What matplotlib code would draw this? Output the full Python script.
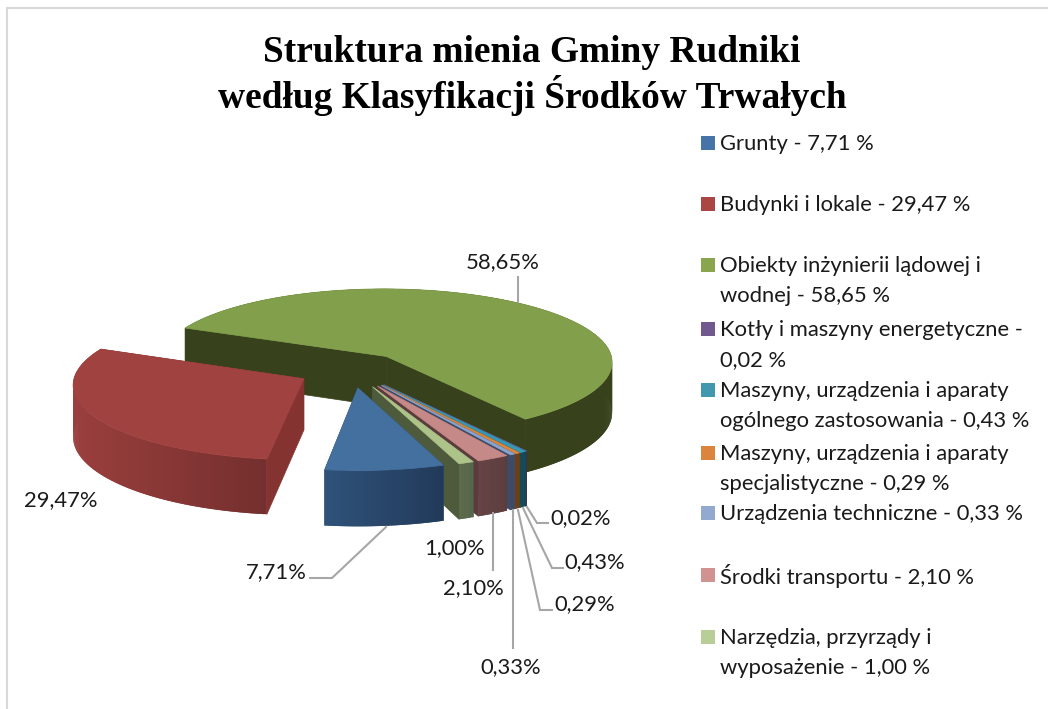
import numpy as np
import matplotlib
matplotlib.use("Agg")
import matplotlib.pyplot as plt
from matplotlib.patches import Polygon, Rectangle
from matplotlib.colors import to_rgb

# ---------- data ----------
title_lines = "Struktura mienia Gminy Rudniki\nwedług Klasyfikacji Środków Trwałych"
values = [7.71, 29.47, 58.65, 0.02, 0.43, 0.29, 0.33, 2.10, 1.00]
value_labels = ["7,71%", "29,47%", "58,65%", "0,02%", "0,43%", "0,29%", "0,33%", "2,10%", "1,00%"]
legend_labels = [
    "Grunty - 7,71 %",
    "Budynki i lokale - 29,47 %",
    "Obiekty inżynierii lądowej i\nwodnej - 58,65 %",
    "Kotły i maszyny energetyczne -\n0,02 %",
    "Maszyny, urządzenia i aparaty\nogólnego zastosowania - 0,43 %",
    "Maszyny, urządzenia i aparaty\nspecjalistyczne - 0,29 %",
    "Urządzenia techniczne - 0,33 %",
    "Środki transportu - 2,10 %",
    "Narzędzia, przyrządy i\nwyposażenie - 1,00 %",
]

# ---------- style ----------
top_colors = ["#44709f", "#a04240", "#82a04b", "#6f5590", "#3a97b2", "#e0883a", "#8ca3cc", "#c58a88", "#adc389"]
legend_colors = ["#4674a8", "#aa4643", "#89a54e", "#71588f", "#4198af", "#db843d", "#93a9cf", "#d19392", "#b9cd96"]
wall_a = ["#2f5279", "#9a3f3d", "#37411c", "#3c2f4d", "#174a58", "#6d3f14", "#3e4b67", "#664445", "#5f6d4d"]
wall_b = ["#223a5a", "#742f2e", "#37411c", "#3c2f4d", "#174a58", "#6d3f14", "#3e4b67", "#5d3d3e", "#56644a"]
side_colors = ["#2a4468", "#853331", "#37411c", "#3c2f4d", "#174a58", "#6d3f14", "#3e4b67", "#5b3b3d", "#4d5a3b"]

CX, CY = 352, 370
R, K, H, P = 228, 0.325, 51, 0.07
EXPLODE = 0.24
START = 70.0

label_pos = [(276, 572), (61, 500), (503, 262), (581, 518), (595, 562), (585, 604), (511, 667), (473, 588), (455, 548)]
leaders = [
    [(310, 578), (332, 578), (386, 527)],
    None,
    [(518, 277), (518, 302)],
    [(527, 507), (537, 523), (548, 523)],
    [(523, 508), (552, 568), (563, 568)],
    [(518, 510), (540, 610), (552, 610)],
    [(513, 510), (513, 648)],
    [(493, 513), (493, 570)],
    None,
]
legend_y = [144, 205, 266, 330, 391, 454, 514, 576, 638]

fig = plt.figure(figsize=(1048 / 100, 709 / 100), dpi=100, facecolor="white")
ax = fig.add_axes([0, 0, 1, 1])
ax.set_xlim(0, 1048)
ax.set_ylim(709, 0)
ax.axis("off")


def proj(u, v, z=0.0):
    u, v = np.asarray(u, float), np.asarray(v, float)
    f = 1 / (1 - P * v)
    return CX + R * u * f, CY + R * K * v * f + H * z * f


def poly(xs, ys, color, z, lw=0.5):
    ax.add_patch(Polygon(np.column_stack([xs, ys]), closed=True, facecolor=color,
                         edgecolor=color if lw else "none", linewidth=lw, zorder=z))


shares = np.array(values) / sum(values) * 360
starts = START + np.concatenate([[0], np.cumsum(shares)[:-1]])
draw_order = [2, 3, 4, 5, 6, 7, 8, 1, 0]

for rank, i in enumerate(draw_order):
    a0, a1 = starts[i], starts[i] + shares[i]
    mid = np.radians((a0 + a1) / 2)
    ou, ov = EXPLODE * np.cos(mid), EXPLODE * np.sin(mid)
    n = max(2, int(shares[i] * 1.5))
    th = np.radians(np.linspace(a0, a1, n + 1))
    au, av = ou + np.cos(th), ov + np.sin(th)
    z = 10 + rank * 5
    # radial walls
    for e in (0, -1):
        xt, yt = proj([ou, au[e]], [ov, av[e]], 0)
        xb, yb = proj([ou, au[e]], [ov, av[e]], 1)
        poly(np.r_[xt, xb[::-1]], np.r_[yt, yb[::-1]], side_colors[i], z)
    # outer wall: overlapping bands shaded along the rim, so no seams show
    xt, yt = proj(au, av, 0)
    xb, yb = proj(au, av, 1)
    ca, cb = np.array(to_rgb(wall_a[i])), np.array(to_rgb(wall_b[i]))
    xmin, xmax = xt.min(), xt.max()
    for j in range(n):
        t = (0.5 * (xt[j] + xt[j + 1]) - xmin) / max(xmax - xmin, 1e-6)
        c = tuple(ca + (cb - ca) * t)
        k2 = min(j + 2, n)
        seg = np.arange(j, k2 + 1)
        poly(np.r_[xt[seg], xb[seg][::-1]], np.r_[yt[seg], yb[seg][::-1]], c, z + 1, lw=0)
    # top face
    xa, ya = proj(ou, ov, 0)
    poly(np.r_[xa, xt], np.r_[ya, yt], top_colors[i], z + 2)

# leader lines
for seg in leaders:
    if seg:
        ax.plot(*zip(*seg), color="#a6a6a6", lw=1.5, solid_joinstyle="miter", zorder=80)

# value labels
FONT = "Lato"
for txt, (x, y) in zip(value_labels, label_pos):
    ax.text(x, y, txt, ha="center", va="center", family=FONT, fontsize=15.8, color="#1a1a1a", zorder=90)

# legend
for lab, col, y in zip(legend_labels, legend_colors, legend_y):
    ax.add_patch(Rectangle((701, y - 8), 14, 14, facecolor=col, edgecolor="none", zorder=90))
    for k, line in enumerate(lab.split("\n")):
        ax.text(720, y + k * 30, line, ha="left", va="center", family=FONT, fontsize=15.8,
                color="#1a1a1a", zorder=90)

# title
for k, line in enumerate(title_lines.split("\n")):
    ax.text(532, 52 + k * 43, line, ha="center", va="center", family="Liberation Serif",
            fontweight="bold", fontsize=26.9, color="black", zorder=90)

# chart frame
ax.plot([7, 7, 1048], [709, 8, 8], color="#d9d9d9", lw=1.5, solid_joinstyle="miter", zorder=1)

fig.savefig("out.png", dpi=100, facecolor="white")
